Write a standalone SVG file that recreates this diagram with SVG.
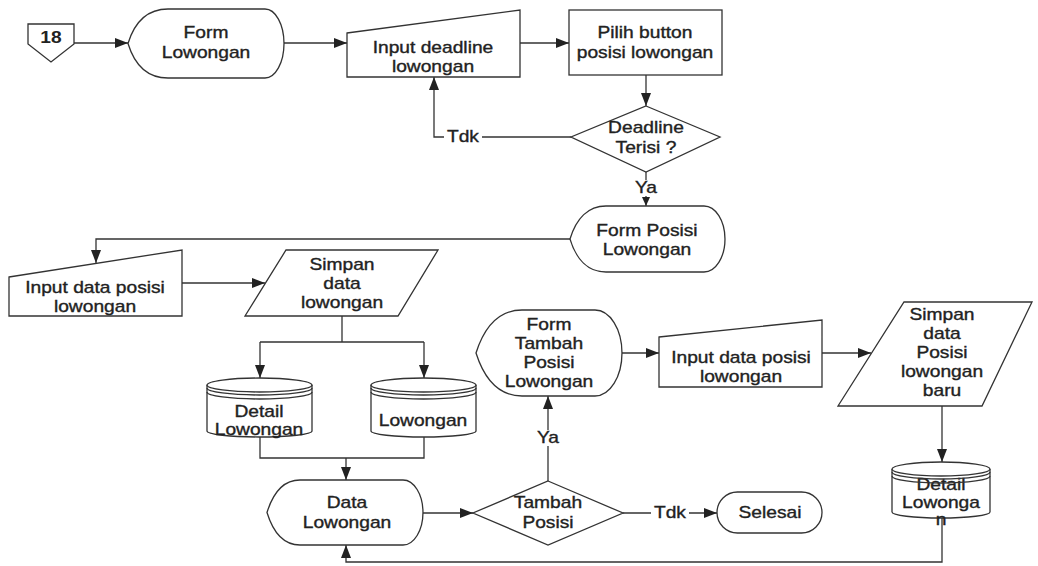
<svg xmlns="http://www.w3.org/2000/svg" width="1038" height="566" viewBox="0 0 1038 566">
  <style>
    .shape { fill: #ffffff; stroke: #333333; stroke-width: 1.3; }
    .line { fill: none; stroke: #333333; stroke-width: 1.3; }
    .arrow { marker-end: url(#head); }
    .arrow-s { marker-end: url(#head-s); }
    text { font-family: "Liberation Sans", Arial, sans-serif; font-size: 16px; fill: #222222; stroke: #222222; stroke-width: 0.35;
           text-anchor: middle; transform-box: fill-box; transform-origin: center; transform: scaleX(1.2); }
    .bold { font-weight: bold; stroke-width: 0; }
    .bg { fill: #ffffff; stroke: none; }
  </style>
  <defs>
    <marker id="head" markerUnits="userSpaceOnUse" markerWidth="13" markerHeight="10" refX="13" refY="5" orient="auto">
      <path d="M0,0 L13,5 L0,10 Z" fill="#222222"/>
    </marker>
    <marker id="head-s" markerUnits="userSpaceOnUse" markerWidth="9" markerHeight="8" refX="9" refY="4" orient="auto">
      <path d="M0,0 L9,4 L0,8 Z" fill="#222222"/>
    </marker>
  </defs>

  <rect width="1038" height="566" fill="#ffffff"/>

  <!-- connectors -->
  <g id="connectors">
    <path class="line arrow" d="M74,43 L128,43"/>
    <path class="line arrow" d="M284,43 L347,43"/>
    <path class="line arrow" d="M520,43 L569,43"/>
    <path class="line arrow" d="M646,75 L646,106"/>
    <path class="line arrow" d="M571,137 L434,137 L434,77"/>
    <path class="line arrow-s" d="M646,172 L646,206"/>
    <path class="line arrow" d="M570,239 L96,239 L96,263"/>
    <path class="line arrow" d="M182,283 L265,283"/>
    <path class="line" d="M342,316 L342,342 M260,342 L424,342"/>
    <path class="line arrow" d="M260,342 L260,378"/>
    <path class="line arrow" d="M424,342 L424,378"/>
    <path class="line" d="M260,437 L260,458 L424,458 L424,437"/>
    <path class="line arrow" d="M346,458 L346,480"/>
    <path class="line arrow" d="M423,513 L473,513"/>
    <path class="line arrow" d="M548,481 L548,396"/>
    <path class="line arrow" d="M623,513 L717,513"/>
    <path class="line arrow" d="M622,353 L659,353"/>
    <path class="line arrow" d="M822,353 L871,353"/>
    <path class="line arrow" d="M942,406 L942,462"/>
    <path class="line arrow" d="M942,518 L942,562 L346,562 L346,545"/>
    <!-- branch labels -->
    <rect class="bg" x="444" y="129" width="38" height="16"/>
    <text x="463" y="142.5">Tdk</text>
    <rect class="bg" x="634" y="180" width="24" height="16"/>
    <text x="646" y="193.5">Ya</text>
    <rect class="bg" x="536" y="430" width="24" height="16"/>
    <text x="548" y="443.5">Ya</text>
    <rect class="bg" x="651" y="505" width="38" height="16"/>
    <text x="670" y="518.5">Tdk</text>
  </g>

  <!-- off-page reference -->
  <g id="ref18">
    <path class="shape" d="M28,24 L74,24 L74,44 L51,62 L28,44 Z"/>
    <text class="bold" x="51" y="43.5">18</text>
  </g>

  <g id="form-lowongan">
    <path class="shape" d="M128,43.5 C134,24 146,9 168,9 L265,9 A19,34.5 0 0 1 265,78 L168,78 C146,78 134,63 128,43.5 Z"/>
    <text x="206" y="38.5">Form</text>
    <text x="206" y="58.5">Lowongan</text>
  </g>

  <g id="input-deadline">
    <path class="shape" d="M347,33 L520,10 L520,77 L347,77 Z"/>
    <text x="433" y="53.5">Input deadline</text>
    <text x="433" y="72.5">lowongan</text>
  </g>

  <g id="pilih-button">
    <rect class="shape" x="569" y="10" width="153" height="65"/>
    <text x="645" y="38.5">Pilih button</text>
    <text x="645" y="58.5">posisi lowongan</text>
  </g>

  <g id="deadline-terisi">
    <path class="shape" d="M646,106 L720,137 L646,172 L571,137 Z"/>
    <text x="646" y="133.5">Deadline</text>
    <text x="646" y="153.5">Terisi ?</text>
  </g>

  <g id="form-posisi">
    <path class="shape" d="M570,239 C576,219 588,206 606,206 L704,206 A21,33 0 0 1 704,272 L606,272 C588,272 576,259 570,239 Z"/>
    <text x="647" y="236.5">Form Posisi</text>
    <text x="647" y="255.5">Lowongan</text>
  </g>

  <g id="input-posisi">
    <path class="shape" d="M9,277 L182,250 L182,316 L9,316 Z"/>
    <text x="95" y="293.5">Input data posisi</text>
    <text x="95" y="312.5">lowongan</text>
  </g>

  <g id="simpan-lowongan">
    <path class="shape" d="M286,250 L438,250 L398,316 L245,316 Z"/>
    <text x="342" y="270.5">Simpan</text>
    <text x="342" y="289.5">data</text>
    <text x="342" y="308.5">lowongan</text>
  </g>

  <g id="db-detail-lowongan">
    <path class="shape" d="M207,385 L207,431 A52.5,6 0 0 0 312,431 L312,385"/>
    <ellipse class="shape" cx="259.5" cy="385" rx="52.5" ry="7"/>
    <path class="line" d="M207,388 A52.5,7 0 0 0 312,388 M207,392 A52.5,7 0 0 0 312,392"/>
    <text x="259" y="417.5">Detail</text>
    <text x="259" y="435.5">Lowongan</text>
  </g>

  <g id="db-lowongan">
    <path class="shape" d="M371,385 L371,431 A52.5,6 0 0 0 476,431 L476,385"/>
    <ellipse class="shape" cx="423.5" cy="385" rx="52.5" ry="7"/>
    <path class="line" d="M371,388 A52.5,7 0 0 0 476,388 M371,392 A52.5,7 0 0 0 476,392"/>
    <text x="423" y="426.5">Lowongan</text>
  </g>

  <g id="data-lowongan">
    <path class="shape" d="M267,512.5 C273,493 283,480 300,480 L403,480 A20,32.5 0 0 1 403,545 L300,545 C283,545 273,532 267,512.5 Z"/>
    <text x="347" y="508.5">Data</text>
    <text x="347" y="528.5">Lowongan</text>
  </g>

  <g id="tambah-posisi">
    <path class="shape" d="M548,481 L623,513 L548,545 L473,513 Z"/>
    <text x="548" y="508.5">Tambah</text>
    <text x="548" y="528.5">Posisi</text>
  </g>

  <g id="selesai">
    <rect class="shape" x="717" y="492" width="105" height="41" rx="20.5" ry="20.5"/>
    <text x="770" y="518.5">Selesai</text>
  </g>

  <g id="form-tambah">
    <path class="shape" d="M476,353 C484,328 498,310 522,310 L595,310 A27,43 0 0 1 595,396 L522,396 C498,396 484,378 476,353 Z"/>
    <text x="549" y="330.5">Form</text>
    <text x="549" y="349.5">Tambah</text>
    <text x="549" y="368.5">Posisi</text>
    <text x="549" y="387.5">Lowongan</text>
  </g>

  <g id="input-posisi-baru">
    <path class="shape" d="M659,337 L822,320 L822,387 L659,387 Z"/>
    <text x="741" y="363.5">Input data posisi</text>
    <text x="741" y="382.5">lowongan</text>
  </g>

  <g id="simpan-posisi-baru">
    <path class="shape" d="M904,302 L1032,302 L982,406 L838,406 Z"/>
    <text x="942" y="320.5">Simpan</text>
    <text x="942" y="339.5">data</text>
    <text x="942" y="358.5">Posisi</text>
    <text x="942" y="377.5">lowongan</text>
    <text x="942" y="396.5">baru</text>
  </g>

  <g id="db-detail-lowongan-2">
    <path class="shape" d="M892,469 L892,512 A49,6 0 0 0 990,512 L990,469"/>
    <ellipse class="shape" cx="941" cy="469" rx="49" ry="7"/>
    <text x="941" y="490.5">Detail</text>
    <text x="941" y="508.5">Lowonga</text>
    <text x="941" y="525">n</text>
    <path class="line" d="M892,472 A49,7 0 0 0 990,472 M892,476 A49,7 0 0 0 990,476"/>
  </g>
</svg>
